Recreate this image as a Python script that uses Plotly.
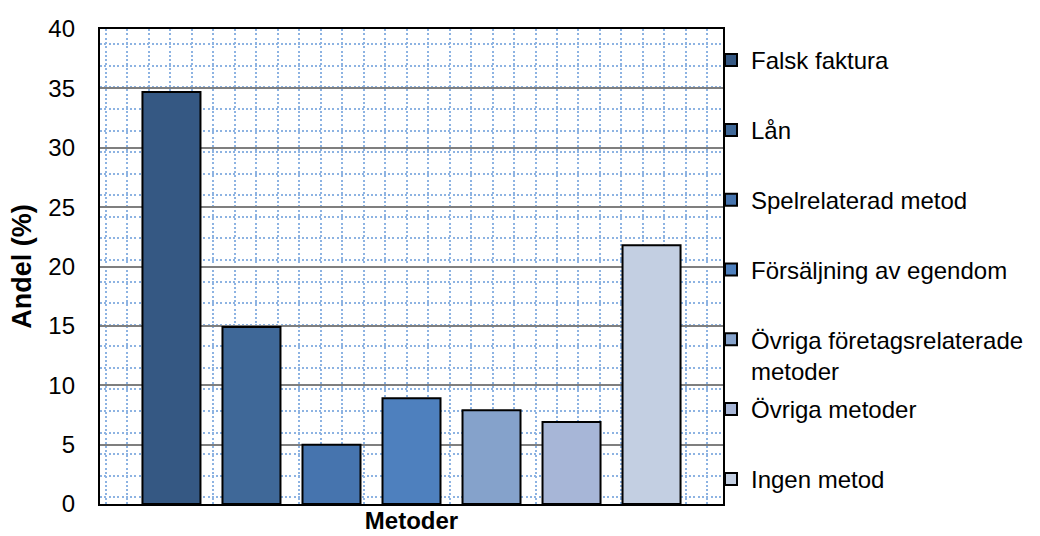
import plotly.graph_objects as go

# Share of cases (%) by method, one bar per method in a single category
category = "Metoder"
methods = [
    "Falsk faktura",
    "Lån",
    "Spelrelaterad metod",
    "Försäljning av egendom",
    "Övriga företagsrelaterade<br>metoder",
    "Övriga metoder",
    "Ingen metod",
]
shares = [34.7, 14.9, 5.0, 8.9, 7.9, 6.9, 21.8]
colors = ["#355883", "#3f6898", "#4674ae", "#4e80be", "#85a2cb", "#a7b6d7", "#c3cfe2"]
y_ticks = [0, 5, 10, 15, 20, 25, 30, 35, 40]

FONT = "Liberation Sans, Arial, sans-serif"
W, H = 1040, 536
L, R, T, B = 100, 317, 29, 32
plot_w = W - L - R
plot_h = H - T - B

fig = go.Figure()

# empty trace so the background subplot (lattice + frame) is drawn
fig.add_trace(go.Scatter(x=[], y=[], xaxis="x", yaxis="y", showlegend=False,
                         hoverinfo="skip"))

legend_keys = ["legend"] + [f"legend{i}" for i in range(2, len(methods) + 1)]

for name, val, col, lg in zip(methods, shares, colors, legend_keys):
    fig.add_trace(go.Bar(
        x=[category], y=[val], name=name,
        marker=dict(color=col, line=dict(color="black", width=2)),
        xaxis="x2", yaxis="y2", legend=lg,
        hovertemplate="%{y}%<extra>" + name.replace("<br>", " ") + "</extra>",
    ))

dot_grid = dict(
    showgrid=True, gridcolor="#8db3e2", gridwidth=2, griddash="2px,2.3px",
    showticklabels=False, ticks="", zeroline=False, automargin=False,
    showline=True, mirror=True, linecolor="black", linewidth=2,
)

layout = dict(
    width=W, height=H,
    margin=dict(l=L, r=R, t=T, b=B, pad=0, autoexpand=False),
    paper_bgcolor="white", plot_bgcolor="white",
    font=dict(family=FONT, size=24, color="black"),
    barmode="group", bargap=0.101, bargroupgap=0.275,
    showlegend=True,
    # dotted background lattice of the plot area
    xaxis=dict(range=[0, plot_w], tick0=5.7, dtick=21.49, **dot_grid),
    yaxis=dict(range=[0, plot_h], tick0=6.7, dtick=21.57, **dot_grid),
    # data axes
    xaxis2=dict(
        overlaying="x", side="bottom", type="category", range=[-0.5, 0.5],
        showgrid=False, zeroline=False, ticks="", showline=False,
        automargin=False, ticklabelstandoff=0,
        tickfont=dict(family=FONT, size=24, color="black", weight="bold"),
    ),
    yaxis2=dict(
        overlaying="y", side="left", range=[0, 40], tickvals=y_ticks,
        showgrid=True, gridcolor="#7f7f7f", gridwidth=1.5,
        zeroline=False, ticks="", showline=False, ticklabelstandoff=24,
        automargin=False,
        tickfont=dict(family=FONT, size=24, color="black"),
        title=dict(text="Andel (%)", standoff=8,
                   font=dict(family=FONT, size=27, color="black", weight="bold")),
    ),
)

# one legend box per method, stacked down the right-hand side
first_center, step = 61, 69.8
for i, lg in enumerate(legend_keys):
    top_px = first_center + i * step - 23
    layout[lg] = dict(
        x=(711 - L) / plot_w, y=(H - B - top_px) / plot_h,
        xanchor="left", yanchor="top", valign="top",
        bgcolor="rgba(0,0,0,0)", borderwidth=0,
        font=dict(family=FONT, size=24, color="black"),
    )

fig.update_layout(**layout)
fig.write_html("out.html")
